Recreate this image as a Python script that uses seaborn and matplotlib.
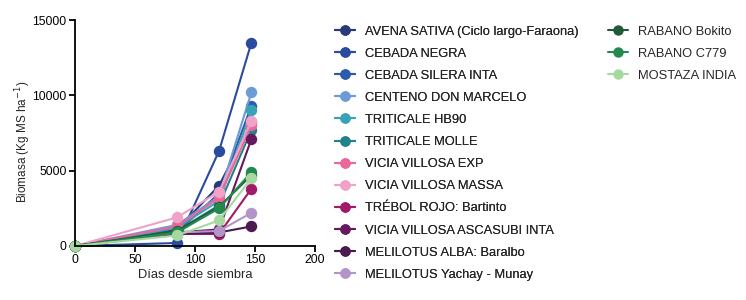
import matplotlib
matplotlib.use("Agg")
import matplotlib.pyplot as plt
import seaborn as sns
import pandas as pd
from matplotlib.lines import Line2D

dias = [0, 85, 120, 147]

series = [
    "AVENA SATIVA (Ciclo largo-Faraona)",
    "CEBADA NEGRA",
    "CEBADA SILERA INTA",
    "CENTENO DON MARCELO",
    "TRITICALE HB90",
    "TRITICALE MOLLE",
    "VICIA VILLOSA EXP",
    "VICIA VILLOSA MASSA",
    "TRÉBOL ROJO: Bartinto",
    "VICIA VILLOSA ASCASUBI INTA",
    "MELILOTUS ALBA: Baralbo",
    "MELILOTUS Yachay - Munay",
    "RABANO Bokito",
    "RABANO C779",
    "MOSTAZA INDIA",
]

avena = [0, 1100, 4000, 8200]
cebada_negra = [0, 200, 6300, 13500]
cebada_silera = [0, 900, 3500, 9300]
centeno = [0, 1400, 3300, 10200]
triticale_hb90 = [0, 1200, 3000, 9000]
triticale_molle = [0, 1000, 2700, 7700]
vicia_exp = [0, 1300, 3200, 8000]
vicia_massa = [0, 1900, 3600, 8300]
trebol = [0, 800, 800, 3800]
vicia_ascasubi = [0, 900, 1100, 7100]
melilotus_alba = [0, 800, 900, 1300]
melilotus_yachay = [0, 900, 1000, 2200]
rabano_bokito = [0, 1000, 2600, 4700]
rabano_c779 = [0, 900, 2500, 4900]
mostaza = [0, 700, 1700, 4500]

valores = [avena, cebada_negra, cebada_silera, centeno, triticale_hb90,
           triticale_molle, vicia_exp, vicia_massa, trebol, vicia_ascasubi,
           melilotus_alba, melilotus_yachay, rabano_bokito, rabano_c779, mostaza]

colores = ["#283a78", "#2a4c9e", "#2c5aac", "#6c9bd6", "#38a2b6", "#22818c",
           "#e9679d", "#f0a2c8", "#a3196a", "#65195f", "#4a1a50", "#b394c9",
           "#1f5c36", "#23894f", "#a6d89f"]

rows = []
for name, vals in zip(series, valores):
    for d, v in zip(dias, vals):
        rows.append({"serie": name, "dias": d, "biomasa": v})
df = pd.DataFrame(rows)

sns.set_style("ticks")
plt.rcParams['font.family'] = ['Liberation Sans', 'DejaVu Sans']

fig = plt.figure(figsize=(7.46, 3.0), dpi=100)
ax = fig.add_axes([0.1005, 0.18, 0.3218, 0.7533])

palette = dict(zip(series, colores))
sns.lineplot(data=df, x="dias", y="biomasa", hue="serie", hue_order=series,
             palette=palette, marker="o", markersize=8.2, markeredgewidth=0,
             linewidth=1.5, legend=False, ax=ax, clip_on=False)

ax.set_xlim(0, 200)
ax.set_ylim(0, 15000)
ax.set_xticks([0, 50, 100, 150, 200])
ax.set_yticks([0, 5000, 10000, 15000])
for s in ["top", "right"]:
    ax.spines[s].set_visible(False)
for s in ["left", "bottom"]:
    ax.spines[s].set_linewidth(1.3)
    ax.spines[s].set_color("black")
ax.tick_params(direction="out", length=4, width=1.3, labelsize=8.8, colors="black", pad=2)
ax.set_xlabel("Días desde siembra", fontsize=9.3, labelpad=2)
ax.set_ylabel("Biomasa (Kg MS ha$^{-1}$)", fontsize=8.5, labelpad=4)
ax.yaxis.set_label_coords(-0.175, 0.46)

handles = [Line2D([0], [0], color=c, marker="o", markersize=7.5, markeredgewidth=0,
                  linewidth=1.5) for c in colores]

kw = dict(loc="upper left", frameon=False, fontsize=9.3, handlelength=1.55,
          labelspacing=0.78, handletextpad=0.8, borderaxespad=0, borderpad=0)
leg1 = fig.legend(handles[:12], series[:12], bbox_to_anchor=(0.449, 0.915), **kw)
leg2 = fig.legend(handles[12:], series[12:], bbox_to_anchor=(0.815, 0.915), **kw)
fig.add_artist(leg1)

fig.savefig("out.png", dpi=100)
